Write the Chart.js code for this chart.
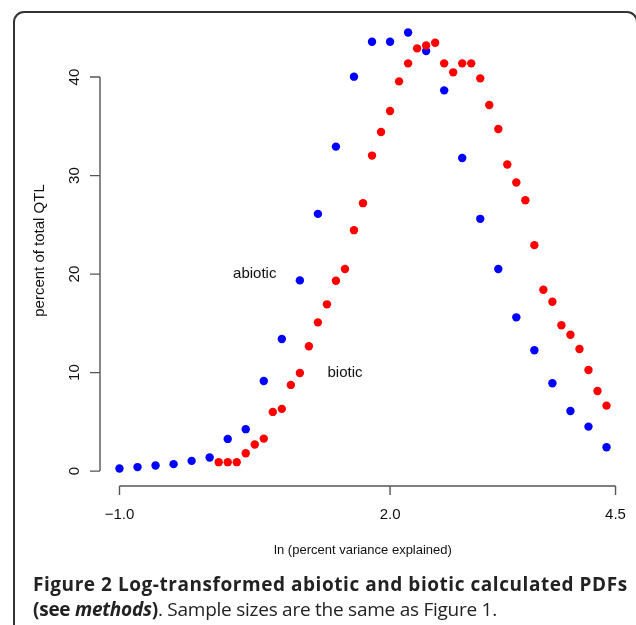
<!DOCTYPE html>
<html>
<head>
<meta charset="utf-8">
<script src="https://cdn.jsdelivr.net/npm/chart.js@4.4.1/dist/chart.umd.min.js"></script>
<style>
body { margin: 0; background: #fff; }
#wrap { position: relative; width: 636px; height: 625px; overflow: hidden; }
#frame {
  position: absolute; left: 13px; top: 11px; width: 625px; height: 700px;
  border: 2px solid #333; border-radius: 11px; box-sizing: border-box;
}
#box { position: absolute; left: 0; top: 0; width: 636px; height: 625px; }
.cap {
  position: absolute; left: 33px; font-family: "Open Sans", sans-serif;
  font-size: 19px; color: #222; white-space: nowrap;
}
#cap1 { top: 571px; font-weight: bold; letter-spacing: 0.55px; }
#cap2 { top: 596px; letter-spacing: -0.25px; }
</style>
</head>
<body>
<div id="wrap">
  <div id="frame"></div>
  <div id="box"><canvas id="qtlChart"></canvas></div>
  <div class="cap" id="cap1">Figure 2 Log-transformed abiotic and biotic calculated PDFs</div>
  <div class="cap" id="cap2"><b>(see <i>methods</i>)</b>. Sample sizes are the same as Figure 1.</div>
</div>
<script>
// =========================
// DATA
// =========================
const abioticX = [-1.0, -0.8, -0.6, -0.4, -0.2, 0.0, 0.2, 0.4, 0.6, 0.8, 1.0, 1.2, 1.4, 1.6,
  1.8, 2.0, 2.2, 2.4, 2.6, 2.8, 3.0, 3.2, 3.4, 3.6, 3.8, 4.0, 4.2, 4.4];
const abioticY = [0.26, 0.41, 0.57, 0.71, 1.04, 1.38, 3.27, 4.26, 9.15, 13.41, 19.36, 26.11, 32.94, 40.04,
  43.59, 43.59, 44.53, 42.64, 38.65, 31.79, 25.61, 20.51, 15.61, 12.27, 8.92, 6.11, 4.52, 2.43];

const bioticX = [0.1, 0.2, 0.3, 0.4, 0.5, 0.6, 0.7, 0.8, 0.9, 1.0, 1.1, 1.2, 1.3, 1.4, 1.5,
  1.6, 1.7, 1.8, 1.9, 2.0, 2.1, 2.2, 2.3, 2.4, 2.5, 2.6, 2.7, 2.8, 2.9, 3.0,
  3.1, 3.2, 3.3, 3.4, 3.5, 3.6, 3.7, 3.8, 3.9, 4.0, 4.1, 4.2, 4.3, 4.4];
const bioticY = [0.91, 0.91, 0.91, 1.82, 2.70, 3.30, 6.01, 6.32, 8.75, 9.96, 12.67, 15.10, 16.93, 19.32, 20.51,
  24.46, 27.20, 32.03, 34.43, 36.55, 39.56, 41.39, 42.91, 43.21, 43.49, 41.39, 40.48, 41.39, 41.39, 39.87,
  37.16, 34.73, 31.12, 29.30, 27.50, 22.94, 18.41, 17.19, 14.80, 13.85, 12.40, 10.27, 8.14, 6.65];

const xTicks = [-1.0, 2.0, 4.5];
const xTickLabels = ["\u22121.0", "2.0", "4.5"];
const yTicks = [0, 10, 20, 30, 40];
const yTickLabels = ["0", "10", "20", "30", "40"];

// in-plot labels: [text, x, y]
const seriesLabels = [["abiotic", 0.5, 20], ["biotic", 1.5, 10]];

const FONT = '"Liberation Sans", Arial, sans-serif';

// =========================
// R-STYLE AXES PLUGIN
// =========================
const baseAxes = {
  id: "baseAxes",
  beforeDatasetsDraw(chart) {
    const c = chart.ctx;
    const xs = chart.scales.x, ys = chart.scales.y;
    const area = chart.chartArea;
    c.save();
    c.strokeStyle = "#555";
    c.lineWidth = 1.4;
    c.fillStyle = "#111";

    // x axis
    const xb = area.bottom;
    c.beginPath();
    c.moveTo(xs.getPixelForValue(xTicks[0]), xb);
    c.lineTo(xs.getPixelForValue(xTicks[xTicks.length - 1]), xb);
    xTicks.forEach(v => {
      const px = xs.getPixelForValue(v);
      c.moveTo(px, xb);
      c.lineTo(px, xb + 9);
    });
    c.stroke();
    c.font = "15px " + FONT;
    c.textAlign = "center";
    c.textBaseline = "alphabetic";
    xTicks.forEach((v, i) => c.fillText(xTickLabels[i], xs.getPixelForValue(v), 519));

    // y axis
    const yl = area.left;
    c.beginPath();
    c.moveTo(yl, ys.getPixelForValue(yTicks[0]));
    c.lineTo(yl, ys.getPixelForValue(yTicks[yTicks.length - 1]));
    yTicks.forEach(v => {
      const py = ys.getPixelForValue(v);
      c.moveTo(yl, py);
      c.lineTo(yl - 10, py);
    });
    c.stroke();
    yTicks.forEach((v, i) => {
      c.save();
      c.translate(78.5, ys.getPixelForValue(v));
      c.rotate(-Math.PI / 2);
      c.fillText(yTickLabels[i], 0, 0);
      c.restore();
    });

    // axis titles
    c.font = "13px " + FONT;
    c.fillText("ln (percent variance explained)", (area.left + area.right) / 2, 554);
    c.save();
    c.font = "15px " + FONT;
    c.translate(44, (area.top + area.bottom) / 2);
    c.rotate(-Math.PI / 2);
    c.fillText("percent of total QTL", 0, 0);
    c.restore();
    c.restore();
  },
  afterDatasetsDraw(chart) {
    const c = chart.ctx;
    c.save();
    c.font = "15px " + FONT;
    c.fillStyle = "#111";
    c.textAlign = "center";
    c.textBaseline = "middle";
    seriesLabels.forEach(([t, x, y]) => {
      c.fillText(t, chart.scales.x.getPixelForValue(x), chart.scales.y.getPixelForValue(y));
    });
    c.restore();
  }
};

// =========================
// CHART
// =========================
new Chart(document.getElementById("qtlChart"), {
  type: "scatter",
  data: {
    datasets: [
      {
        label: "biotic",
        data: bioticX.map((x, i) => ({ x: x, y: bioticY[i] })),
        backgroundColor: "#ff0000",
        borderWidth: 0,
        pointRadius: 4.2,
        order: 0
      },
      {
        label: "abiotic",
        data: abioticX.map((x, i) => ({ x: x, y: abioticY[i] })),
        backgroundColor: "#0000ff",
        borderWidth: 0,
        pointRadius: 4.2,
        order: 1
      }
    ]
  },
  options: {
    responsive: true,
    maintainAspectRatio: false,
    animation: false,
    layout: { padding: { left: 100, right: 10, top: 15, bottom: 139 } },
    plugins: { legend: { display: false }, tooltip: { enabled: false } },
    scales: {
      x: { type: "linear", min: -1.216, max: 4.616, display: false },
      y: { type: "linear", min: -1.51, max: 46.3, display: false }
    }
  },
  plugins: [baseAxes]
});
</script>
</body>
</html>
